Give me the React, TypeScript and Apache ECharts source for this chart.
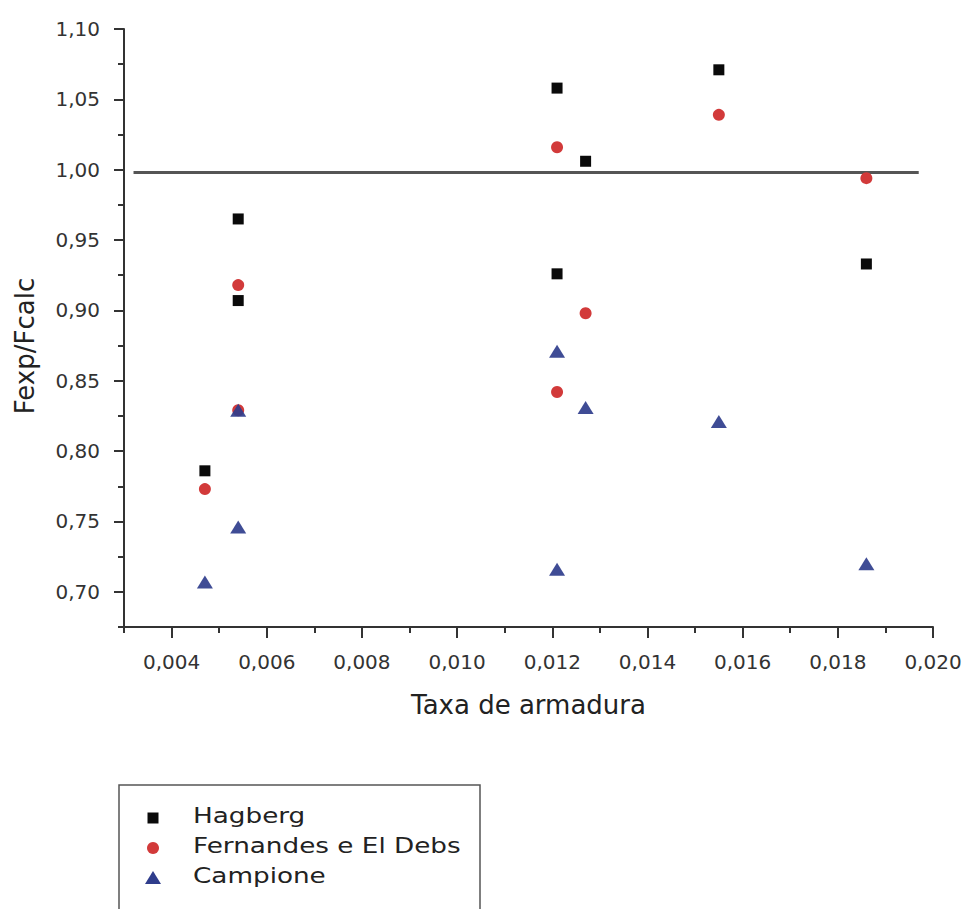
import React, { useEffect, useRef } from "react";
import * as echarts from "echarts";

// ---- Data ----
const hagbergX = [0.0047, 0.0054, 0.0054, 0.0121, 0.0121, 0.0127, 0.0155, 0.0186];
const hagbergY = [0.786, 0.965, 0.907, 1.058, 0.926, 1.006, 1.071, 0.933];

const fernandesX = [0.0047, 0.0054, 0.0054, 0.0121, 0.0121, 0.0127, 0.0155, 0.0186];
const fernandesY = [0.773, 0.918, 0.829, 1.016, 0.842, 0.898, 1.039, 0.994];

const campioneX = [0.0047, 0.0054, 0.0054, 0.0121, 0.0121, 0.0127, 0.0155, 0.0186];
const campioneY = [0.707, 0.829, 0.746, 0.871, 0.716, 0.831, 0.821, 0.72];

const refLineX = [0.0032, 0.0197];
const refLineY = [0.998, 0.998];

const seriesNames = ["Hagberg", "Fernandes e El Debs", "Campione"];
const xTitle = "Taxa de armadura";
const yTitle = "Fexp/Fcalc";

// ---- Styles ----
const FONT = "'DejaVu Sans', 'Open Sans', sans-serif";
const AXIS_COLOR = "#333";
const TEXT_COLOR = "#333";
const BLACK = "#0a0a0a";
const RED = "#d23a3a";
const BLUE = "#2f3d8c";

const W = 967;
const H = 909;
const GRID_LEFT = 124;
const GRID_RIGHT = 34;
const GRID_TOP = 29;
const GRID_BOTTOM = 282;
const X_MIN = 0.003;
const X_MAX = 0.02;
const Y_MIN = 0.675;
const Y_MAX = 1.1;
const plotW = W - GRID_LEFT - GRID_RIGHT;
const plotH = H - GRID_TOP - GRID_BOTTOM;
// secondary grids that carry the labelled (major) ticks, aligned with the main grid
const majorXStart = 0.004;
const majorYStart = 0.7;
const gridXMajorLeft = GRID_LEFT + ((majorXStart - X_MIN) / (X_MAX - X_MIN)) * plotW;
const gridYMajorBottom = GRID_BOTTOM + ((majorYStart - Y_MIN) / (Y_MAX - Y_MIN)) * plotH;

const zip = (xs: number[], ys: number[]) => xs.map((x, i) => [x, ys[i]]);
const fmtX = (v: number) => v.toFixed(3).replace(".", ",");
const fmtY = (v: number) => v.toFixed(2).replace(".", ",");

export default function App() {
  const ref = useRef<HTMLDivElement>(null);

  useEffect(() => {
    if (!ref.current) return;
    const chart = echarts.init(ref.current, undefined, { renderer: "svg" });

    const hiddenAxis = (gridIndex: number) => ({
      type: "value",
      gridIndex,
      show: false,
      min: 0,
      max: 1,
    });

    const minorLine = { color: AXIS_COLOR, width: 2 };

    const option: any = {
      animation: false,
      backgroundColor: "#fff",
      grid: [
        {
          left: GRID_LEFT,
          right: GRID_RIGHT,
          top: GRID_TOP,
          bottom: GRID_BOTTOM,
          containLabel: false,
          outerBoundsMode: "none",
        },
        {
          left: gridXMajorLeft,
          right: GRID_RIGHT,
          top: GRID_TOP,
          bottom: GRID_BOTTOM,
          containLabel: false,
          outerBoundsMode: "none",
        },
        {
          left: GRID_LEFT,
          right: GRID_RIGHT,
          top: GRID_TOP,
          bottom: gridYMajorBottom,
          containLabel: false,
          outerBoundsMode: "none",
        },
      ],
      xAxis: [
        {
          type: "value",
          gridIndex: 0,
          min: X_MIN,
          max: X_MAX,
          interval: 0.001,
          axisLine: { show: true, onZero: false, lineStyle: minorLine },
          axisTick: { show: true, inside: false, length: 6, lineStyle: minorLine },
          axisLabel: { show: false },
          splitLine: { show: false },
          name: xTitle,
          nameLocation: "middle",
          nameGap: 65,
          nameTextStyle: { fontFamily: FONT, fontSize: 26, color: "#222" },
        },
        {
          type: "value",
          gridIndex: 1,
          min: majorXStart,
          max: X_MAX,
          interval: 0.002,
          axisLine: { show: false },
          axisTick: { show: true, inside: false, length: 11, lineStyle: minorLine },
          axisLabel: {
            show: true,
            margin: 25,
            fontFamily: FONT,
            fontSize: 20,
            color: TEXT_COLOR,
            showMinLabel: true,
            showMaxLabel: true,
            hideOverlap: false,
            formatter: fmtX,
          },
          splitLine: { show: false },
        },
        hiddenAxis(2),
      ],
      yAxis: [
        {
          type: "value",
          gridIndex: 0,
          min: Y_MIN,
          max: Y_MAX,
          interval: 0.025,
          axisLine: { show: true, onZero: false, lineStyle: minorLine },
          axisTick: { show: true, inside: false, length: 6, lineStyle: minorLine },
          axisLabel: { show: false },
          splitLine: { show: false },
        },
        hiddenAxis(1),
        {
          type: "value",
          gridIndex: 2,
          min: majorYStart,
          max: Y_MAX,
          interval: 0.05,
          axisLine: { show: false },
          axisTick: { show: true, inside: false, length: 10, lineStyle: minorLine },
          axisLabel: {
            show: true,
            margin: 24,
            fontFamily: FONT,
            fontSize: 20,
            color: TEXT_COLOR,
            showMinLabel: true,
            showMaxLabel: true,
            hideOverlap: false,
            formatter: fmtY,
          },
          splitLine: { show: false },
        },
      ],
      series: [
        {
          name: "ref",
          type: "line",
          xAxisIndex: 0,
          yAxisIndex: 0,
          data: zip(refLineX, refLineY),
          showSymbol: false,
          symbol: "none",
          lineStyle: { color: "#555", width: 3 },
          silent: true,
          z: 1,
        },
        {
          name: seriesNames[0],
          type: "scatter",
          xAxisIndex: 0,
          yAxisIndex: 0,
          data: zip(hagbergX, hagbergY),
          symbol: "rect",
          symbolSize: [11, 11],
          itemStyle: { color: BLACK, opacity: 1 },
          z: 2,
        },
        {
          name: seriesNames[1],
          type: "scatter",
          xAxisIndex: 0,
          yAxisIndex: 0,
          data: zip(fernandesX, fernandesY),
          symbol: "circle",
          symbolSize: 12,
          itemStyle: { color: RED, opacity: 1 },
          z: 3,
        },
        {
          name: seriesNames[2],
          type: "scatter",
          xAxisIndex: 0,
          yAxisIndex: 0,
          data: zip(campioneX, campioneY),
          symbol: "triangle",
          symbolSize: [16, 13],
          itemStyle: { color: BLUE, opacity: 0.92 },
          z: 4,
        },
      ],
      graphic: [
        {
          type: "text",
          x: 25,
          y: 346,
          rotation: Math.PI / 2,
          style: {
            text: yTitle,
            fontFamily: FONT,
            fontSize: 26,
            fill: "#222",
            align: "center",
            verticalAlign: "middle",
          },
        },
        {
          type: "rect",
          shape: { x: 119, y: 785, width: 361, height: 140 },
          style: { fill: "transparent", stroke: "#555", lineWidth: 1.5 },
        },
        {
          type: "rect",
          shape: { x: 147.5, y: 812.5, width: 11, height: 11 },
          style: { fill: BLACK },
        },
        {
          type: "circle",
          shape: { cx: 153, cy: 848, r: 6 },
          style: { fill: RED },
        },
        {
          type: "polygon",
          shape: { points: [[153, 871], [145, 884], [161, 884]] },
          style: { fill: BLUE },
        },
        ...seriesNames.map((name, i) => ({
          type: "text",
          x: 193,
          y: 816 + i * 30,
          scaleX: 1.25,
          style: {
            text: name,
            fontFamily: FONT,
            fontSize: 21,
            fill: "#222",
            align: "left",
            verticalAlign: "middle",
          },
        })),
      ],
    };

    chart.setOption(option);
    return () => chart.dispose();
  }, []);

  return (
    <div
      ref={ref}
      style={{ position: "fixed", left: 0, top: 0, width: W, height: H, background: "#fff" }}
    />
  );
}
